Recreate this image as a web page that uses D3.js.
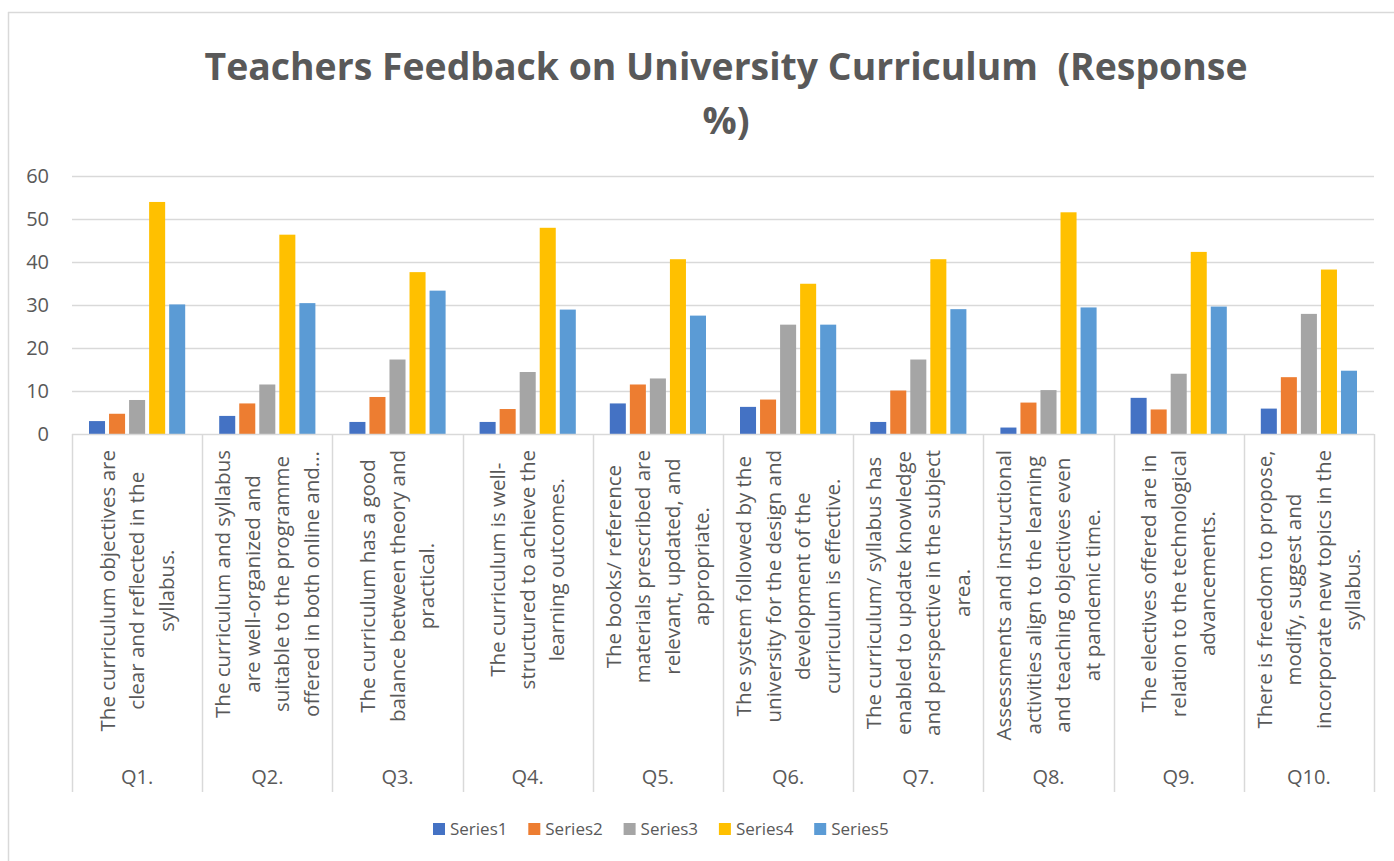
<!DOCTYPE html>
<html>
<head>
  <meta charset="utf-8" />
  <script src="https://d3js.org/d3.v7.min.js"></script>
  <style>
    body { margin: 0; background: #fff; }
    text { font-family: "Open Sans", "DejaVu Sans", sans-serif; fill: #595959; }
  </style>
</head>
<body>
  <script>
    // data
    var categories = ["Q1.", "Q2.", "Q3.", "Q4.", "Q5.", "Q6.", "Q7.", "Q8.", "Q9.", "Q10."];
    var questions = [
      ["The curriculum objectives are", "clear and reflected in the", "syllabus."],
      ["The curriculum and syllabus", "are well-organized and", "suitable to the programme", "offered in both online and..."],
      ["The curriculum has a good", "balance between theory and", "practical."],
      ["The curriculum is well-", "structured to achieve the", "learning outcomes."],
      ["The books/ reference", "materials prescribed are", "relevant, updated, and", "appropriate."],
      ["The system followed by the", "university for the design and", "development of the", "curriculum is effective."],
      ["The curriculum/ syllabus has", "enabled to update knowledge", "and perspective in the subject", "area."],
      ["Assessments and instructional", "activities align to the learning", "and teaching objectives even", "at pandemic time."],
      ["The electives offered are in", "relation to the technological", "advancements."],
      ["There is freedom to propose,", "modify, suggest and", "incorporate new topics in the", "syllabus."]
    ];
    var seriesNames = ["Series1", "Series2", "Series3", "Series4", "Series5"];
    var series1 = [3.0, 4.2, 2.8, 2.8, 7.1, 6.3, 2.8, 1.5, 8.4, 5.9];
    var series2 = [4.7, 7.1, 8.6, 5.8, 11.5, 8.0, 10.1, 7.3, 5.7, 13.2];
    var series3 = [7.9, 11.5, 17.3, 14.4, 12.9, 25.4, 17.3, 10.2, 14.0, 27.9];
    var series4 = [53.9, 46.3, 37.6, 47.9, 40.6, 34.9, 40.6, 51.5, 42.3, 38.2];
    var series5 = [30.1, 30.4, 33.3, 28.9, 27.5, 25.4, 29.0, 29.4, 29.6, 14.7];
    var yTicks = [0, 10, 20, 30, 40, 50, 60];
    var colors = ["#4472C4", "#ED7D31", "#A5A5A5", "#FFC000", "#5B9BD5"];

    var allSeries = [series1, series2, series3, series4, series5];

    var width = 1394, height = 861;
    var plotL = 72, plotR = 1374, plotT = 175.7, plotB = 434;

    var svg = d3.select("body").append("svg")
      .attr("width", width).attr("height", height);

    // chart frame (only top and left edges visible)
    svg.append("line").attr("x1", 8).attr("x2", width).attr("y1", 12.5).attr("y2", 12.5)
      .attr("stroke", "#d9d9d9").attr("stroke-width", 1.5);
    svg.append("line").attr("x1", 8.5).attr("x2", 8.5).attr("y1", 12).attr("y2", height)
      .attr("stroke", "#d9d9d9").attr("stroke-width", 1.5);

    // title
    var title = svg.append("text")
      .attr("text-anchor", "middle")
      .style("font-weight", "bold")
      .style("font-size", "38px")
      .style("white-space", "pre");
    title.append("tspan").attr("x", 726).attr("y", 80)
      .attr("textLength", 1043).attr("lengthAdjust", "spacingAndGlyphs")
      .text("Teachers Feedback on University Curriculum  (Response");
    title.append("tspan").attr("x", 726).attr("y", 134).text("%)");

    var y = d3.scaleLinear().domain([0, 60]).range([plotB, plotT]);
    var x0 = d3.scaleBand().domain(categories).range([plotL, plotR]).padding(0);
    var bw = x0.bandwidth();
    var x1 = d3.scaleBand().domain(seriesNames)
      .range([bw * 0.1306, bw * (1 - 0.1306)]).paddingInner(0.2).paddingOuter(0);

    // gridlines
    svg.append("g").selectAll("line").data(yTicks.filter(d => d > 0)).join("line")
      .attr("x1", plotL).attr("x2", plotR)
      .attr("y1", d => Math.round(y(d)) + 0.5).attr("y2", d => Math.round(y(d)) + 0.5)
      .attr("stroke", "#d9d9d9").attr("stroke-width", 1.3);

    // y tick labels
    svg.append("g").selectAll("text").data(yTicks).join("text")
      .attr("x", 49).attr("y", d => y(d)).attr("dy", "0.35em")
      .attr("text-anchor", "end")
      .style("font-size", "20px")
      .text(d => d);

    // bars
    var groups = svg.append("g").selectAll("g").data(categories).join("g")
      .attr("transform", d => "translate(" + x0(d) + ",0)");
    groups.selectAll("rect")
      .data((d, i) => seriesNames.map((s, j) => ({ s: s, j: j, v: allSeries[j][i] })))
      .join("rect")
      .attr("x", d => x1(d.s))
      .attr("width", x1.bandwidth())
      .attr("y", d => y(d.v))
      .attr("height", d => plotB - y(d.v))
      .attr("fill", d => colors[d.j]);

    // category axis: baseline and separators
    svg.append("line").attr("x1", plotL).attr("x2", plotR)
      .attr("y1", plotB + 0.5).attr("y2", plotB + 0.5)
      .attr("stroke", "#d9d9d9").attr("stroke-width", 1.5);
    var seps = categories.map(c => x0(c)).concat([plotR]);
    svg.append("g").selectAll("line").data(seps).join("line")
      .attr("x1", d => Math.round(d) + 0.5).attr("x2", d => Math.round(d) + 0.5)
      .attr("y1", plotB).attr("y2", 792)
      .attr("stroke", "#d9d9d9").attr("stroke-width", 1.5);

    // rotated question text
    var lineGap = 29.5;
    questions.forEach(function (lines, i) {
      var cx = x0(categories[i]) + bw / 2;
      var g = svg.append("g");
      var texts = lines.map(function (ln) {
        return g.append("text")
          .attr("text-anchor", "middle")
          .style("font-size", "20.5px")
          .text(ln);
      });
      var maxLen = d3.max(texts, t => t.node().getComputedTextLength());
      var cy = 450 + maxLen / 2;
      texts.forEach(function (t, k) {
        var lx = cx + (k - (lines.length - 1) / 2) * lineGap;
        t.attr("transform", "translate(" + lx + "," + cy + ") rotate(-90)")
          .attr("dy", "0.35em");
      });
    });

    // Q labels
    svg.append("g").selectAll("text").data(categories).join("text")
      .attr("x", d => x0(d) + bw / 2).attr("y", 777).attr("dy", "0.35em")
      .attr("text-anchor", "middle")
      .style("font-size", "20px")
      .text(d => d);

    // legend
    var legend = svg.append("g").selectAll("g").data(seriesNames).join("g")
      .attr("transform", (d, i) => "translate(" + (433 + i * 95.3) + ",829)");
    legend.append("rect").attr("x", 0).attr("y", -6).attr("width", 12).attr("height", 12)
      .attr("fill", (d, i) => colors[i]);
    legend.append("text").attr("x", 17).attr("dy", "0.35em")
      .style("font-size", "17px")
      .text(d => d);
  </script>
</body>
</html>
